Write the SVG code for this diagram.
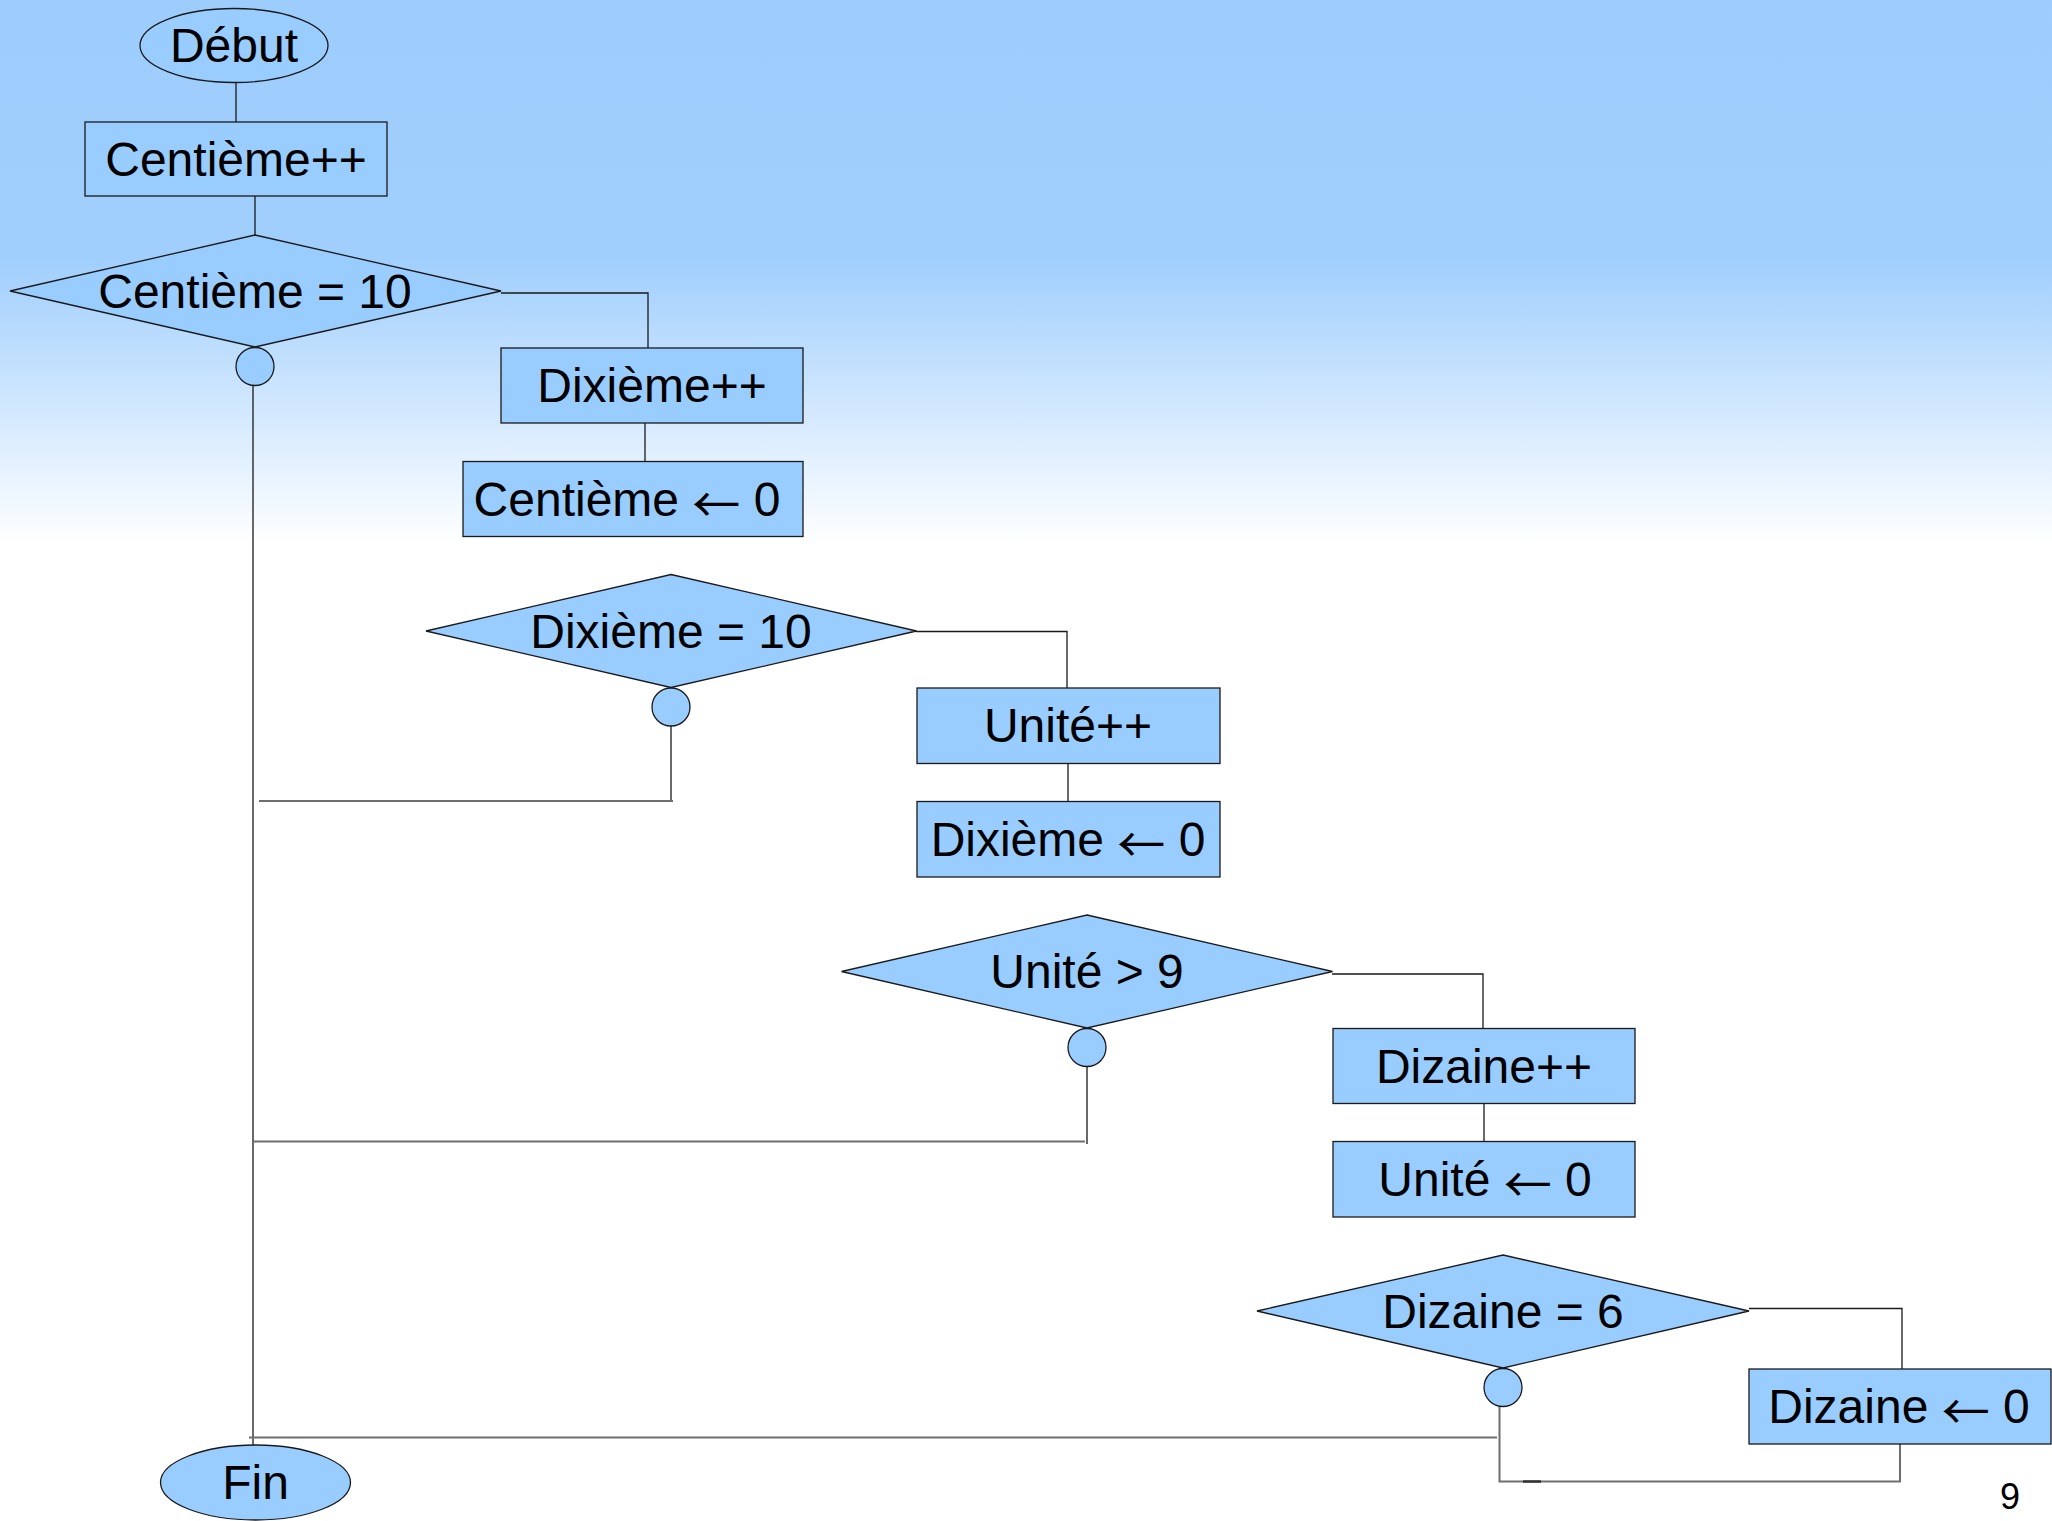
<svg xmlns="http://www.w3.org/2000/svg" width="2052" height="1521" viewBox="0 0 2052 1521">
<defs>
<linearGradient id="bg" gradientUnits="userSpaceOnUse" x1="0" y1="0" x2="0" y2="545">
<stop offset="0" stop-color="#9dcdfd"/>
<stop offset="0.48" stop-color="#a1cffd"/>
<stop offset="1" stop-color="#ffffff"/>
</linearGradient>
<style>
.shape{fill:#99ccff;stroke:#1a1a1a;stroke-width:1.3}
.lbl{font-family:"Liberation Sans",Arial,sans-serif;font-size:48px;fill:#000;text-anchor:middle}
.arr{font-family:"Noto Sans CJK JP",sans-serif;font-size:48px}
.ln{fill:none;stroke:#1a1a1a;stroke-width:1.3}
.lg{fill:none;stroke:#6e6e6e;stroke-width:2}
</style>
</defs>
<rect x="0" y="0" width="2052" height="1521" fill="#ffffff"/>
<rect x="0" y="0" width="2052" height="545" fill="url(#bg)"/>

<g id="connectors">
<path class="ln" d="M236,82 V122"/>
<path class="ln" d="M255,196 V235"/>
<path class="ln" d="M501,293 H648 V348"/>
<path class="ln" d="M645,423 V461.5"/>
<path class="ln" d="M253,386 V1445"/>
<path class="ln" d="M916,631.5 H1067 V688"/>
<path class="ln" d="M1068,763.5 V801.5"/>
<path class="ln" d="M671,726 V802"/>
<path class="lg" d="M673,801 H259"/>
<path class="ln" d="M1332,974 H1483 V1028.5"/>
<path class="ln" d="M1484,1103.5 V1141.5"/>
<path class="ln" d="M1087,1066.5 V1144"/>
<path class="lg" d="M1085,1141.5 H253"/>
<path class="ln" d="M1749,1308.5 H1902 V1369"/>
<path class="lg" d="M1900,1444 V1481.5 H1499.5 V1406"/>
<path class="lg" d="M1497,1437.5 H249"/>
<path d="M1523,1481.5 H1541" stroke="#333" stroke-width="2.5"/>
</g>

<g id="debut">
<ellipse class="shape" cx="234" cy="45.5" rx="94" ry="37"/>
<text class="lbl" x="234" y="62">Début</text>
</g>
<g id="centieme-inc">
<rect class="shape" x="85" y="122" width="302" height="74"/>
<text class="lbl" x="236" y="176">Centième++</text>
</g>
<g id="test-centieme">
<polygon class="shape" points="255,235 501,291 255,347 10,291"/>
<text class="lbl" x="255" y="308">Centième = 10</text>
</g>
<g id="join-1">
<ellipse class="shape" cx="255" cy="366.5" rx="19" ry="19"/>
</g>
<g id="dixieme-inc">
<rect class="shape" x="501" y="348" width="302" height="75"/>
<text class="lbl" x="652" y="402">Dixième++</text>
</g>
<g id="centieme-reset">
<rect class="shape" x="463" y="461.5" width="340" height="75"/>
<text class="lbl" x="627" y="516">Centième <tspan class="arr" dy="6">←</tspan><tspan dy="-6"> 0</tspan></text>
</g>
<g id="test-dixieme">
<polygon class="shape" points="671,574.5 916.5,631 671,687.5 426,631"/>
<text class="lbl" x="671" y="648">Dixième = 10</text>
</g>
<g id="join-2">
<ellipse class="shape" cx="671" cy="707" rx="19" ry="19"/>
</g>
<g id="unite-inc">
<rect class="shape" x="917" y="688" width="303" height="75.5"/>
<text class="lbl" x="1068" y="742">Unité++</text>
</g>
<g id="dixieme-reset">
<rect class="shape" x="917" y="801.5" width="303" height="75.5"/>
<text class="lbl" x="1068" y="856">Dixième <tspan class="arr" dy="6">←</tspan><tspan dy="-6"> 0</tspan></text>
</g>
<g id="test-unite">
<polygon class="shape" points="1087,915 1332.5,971.5 1087,1028 841.5,971.5"/>
<text class="lbl" x="1087" y="988">Unité &gt; 9</text>
</g>
<g id="join-3">
<ellipse class="shape" cx="1087" cy="1047.5" rx="19" ry="19"/>
</g>
<g id="dizaine-inc">
<rect class="shape" x="1333" y="1028.5" width="302" height="75"/>
<text class="lbl" x="1484" y="1083">Dizaine++</text>
</g>
<g id="unite-reset">
<rect class="shape" x="1333" y="1141.5" width="302" height="75.5"/>
<text class="lbl" x="1485" y="1196">Unité <tspan class="arr" dy="6">←</tspan><tspan dy="-6"> 0</tspan></text>
</g>
<g id="test-dizaine">
<polygon class="shape" points="1503,1255 1749,1311 1503,1368 1257,1311"/>
<text class="lbl" x="1503" y="1328">Dizaine = 6</text>
</g>
<g id="join-4">
<ellipse class="shape" cx="1503" cy="1387.5" rx="19" ry="19"/>
</g>
<g id="dizaine-reset">
<rect class="shape" x="1749" y="1369" width="302" height="75"/>
<text class="lbl" x="1899" y="1423">Dizaine <tspan class="arr" dy="6">←</tspan><tspan dy="-6"> 0</tspan></text>
</g>
<g id="fin">
<ellipse class="shape" cx="255.5" cy="1482.5" rx="95" ry="37.5"/>
<text class="lbl" x="255.5" y="1499">Fin</text>
</g>
<text x="2010" y="1509" font-family="'Liberation Sans',Arial,sans-serif" font-size="36" text-anchor="middle" fill="#000">9</text>
</svg>
